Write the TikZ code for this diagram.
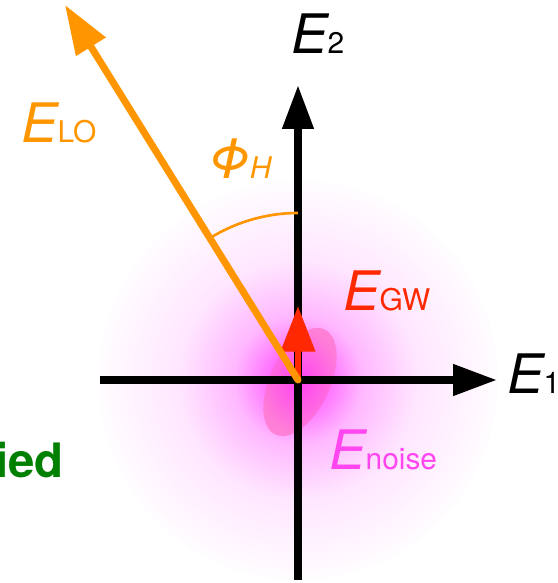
\documentclass[tikz,border=0pt]{standalone}
\usepackage{fontspec}
\setmainfont{TeX Gyre Heros}
\usetikzlibrary{positioning, calc, arrows.meta}

\definecolor{loorange}{RGB}{255,150,0}
\definecolor{gwred}{RGB}{255,40,0}
\definecolor{noisemag}{RGB}{255,70,240}
\definecolor{glowmag}{RGB}{255,50,255}
\definecolor{blobpink}{RGB}{255,120,205}
\definecolor{labgreen}{RGB}{0,128,0}

\pgfdeclareradialshading{noiseglow}{\pgfpoint{0bp}{0bp}}{%
  color(0bp)=(glowmag); color(3bp)=(glowmag!75); color(8bp)=(glowmag!35);
  color(15bp)=(glowmag!12); color(26bp)=(white); color(50bp)=(white)}

\newcommand{\bigE}[1]{{\fontsize{31}{34}\selectfont\itshape #1}}
\newcommand{\smallsub}[1]{{\fontsize{17}{20}\selectfont #1}}

\begin{document}
\begin{tikzpicture}[x=0.02cm, y=0.02cm,
  axis/.style={line width=4.5pt, -{Triangle[length=25pt, width=17pt]}},
  lolabel/.style={text=loorange, inner sep=0pt, anchor=base west},
  every node/.style={inner sep=0pt}]

\useasboundingbox (0,0) rectangle (558,583);
\clip (0,0) rectangle (558,583);

\coordinate (O)    at (298,203);
\coordinate (e1a)  at (100,203);
\coordinate (e1b)  at (497,203);
\coordinate (e2a)  at (298,3);
\coordinate (e2b)  at (298,498);
\coordinate (lo)   at (65,578);
\coordinate (gw)   at (298,277);

% glow round the origin
\shade[shading=noiseglow] (O) circle (200);
\shade[inner color=glowmag!70!blobpink, outer color=blobpink, opacity=0.8,
  rotate around={-25:(300,201)}] (300,201) ellipse (30 and 58);

% axes
\draw[axis] (e1a) -- (e1b);
\draw[axis] (e2a) -- (e2b);

% signal field
\draw[gwred, line width=3.5pt, -{Triangle[length=26pt, width=19pt]}] (O) -- (gw);

% local oscillator
\draw[loorange, line width=4pt, line cap=round, -{Triangle[length=28pt, width=19pt]}] (O) -- (lo);
\draw[loorange, line width=1.5pt] ($(O)+(90:167)$) arc[start angle=90, end angle=122, radius=167];

\node[anchor=base west] (E2lab) at (291,530) {\bigE{E}\smallsub{2}};
\node[anchor=base west] (E1lab) at (507,190) {\bigE{E}\smallsub{1}};
\node[lolabel] (ELOlab) at (21,440) {\bigE{E}\smallsub{LO}};
\node[lolabel] (PhiH) at (208,405) {\bigE{Φ}\smallsub{\itshape H}};
\node[anchor=base west, text=gwred] (EGWlab) at (343,273) {\bigE{E}\smallsub{GW}};
\node[anchor=base west, text=noisemag] (Enoiselab) at (329,113) {\bigE{E}\smallsub{noise}};
\node[anchor=base east, text=labgreen, font=\fontsize{27}{30}\selectfont\bfseries] (lostlab) at (64,106) {ied};

\end{tikzpicture}
\end{document}
